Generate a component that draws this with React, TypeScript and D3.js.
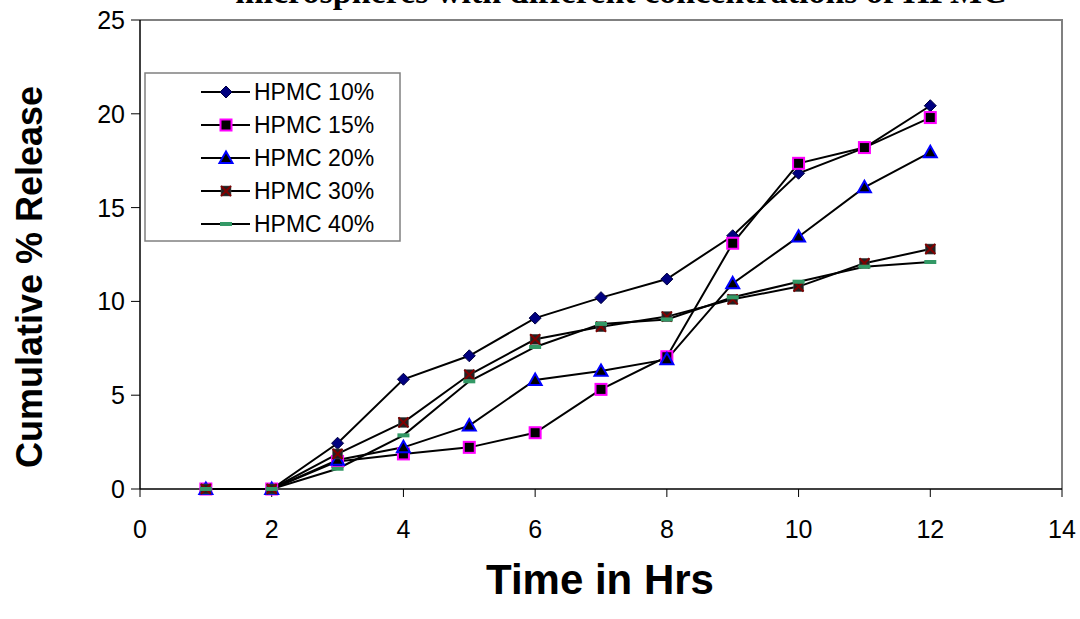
import React from "react";
import * as d3 from "d3";

const hours = [1, 2, 3, 4, 5, 6, 7, 8, 9, 10, 11, 12];
const hpmc10 = [0, 0, 2.44, 5.85, 7.1, 9.11, 10.2, 11.19, 13.5, 16.83, 18.18, 20.43];
const hpmc15 = [0, 0, 1.47, 1.87, 2.22, 3.0, 5.31, 7.05, 13.1, 17.36, 18.2, 19.8];
const hpmc20 = [0, 0, 1.55, 2.22, 3.38, 5.81, 6.29, 6.91, 10.96, 13.45, 16.08, 17.95];
const hpmc30 = [0, 0, 1.87, 3.55, 6.09, 7.98, 8.65, 9.19, 10.11, 10.79, 12.03, 12.79];
const hpmc40 = [0, 0, 1.08, 2.86, 5.74, 7.57, 8.8, 9.04, 10.22, 11.05, 11.85, 12.1];
const seriesNames = ["HPMC 10%", "HPMC 15%", "HPMC 20%", "HPMC 30%", "HPMC 40%"];
const markerKinds = ["diamond", "square", "triangle", "cross", "dash"];
const xTicks = [0, 2, 4, 6, 8, 10, 12, 14];
const yTicks = [0, 5, 10, 15, 20, 25];
const titleText = "microspheres with different concentrations of HPMC";
const xTitle = "Time in Hrs";
const yTitle = "Cumulative % Release";

const seriesValues = [hpmc10, hpmc15, hpmc20, hpmc30, hpmc40];

const W = 1080;
const H = 619;
const left = 140;
const right = 1062;
const top = 20;
const bottom = 489;

function Marker({ kind, x, y }: { kind: string; x: number; y: number }) {
  if (kind === "diamond") {
    const r = 6;
    return (
      <path
        d={`M${x},${y - r}L${x + r},${y}L${x},${y + r}L${x - r},${y}Z`}
        fill="#000080"
        stroke="#000040"
        strokeWidth={1}
      />
    );
  }
  if (kind === "square") {
    const s = 11;
    return (
      <rect x={x - s / 2} y={y - s / 2} width={s} height={s} fill="#000000" stroke="#ff00ff" strokeWidth={2} />
    );
  }
  if (kind === "triangle") {
    const r = 6.5;
    return (
      <path
        d={`M${x},${y - r}L${x + r},${y + r * 0.75}L${x - r},${y + r * 0.75}Z`}
        fill="#000000"
        stroke="#0000ff"
        strokeWidth={2}
      />
    );
  }
  if (kind === "cross") {
    const s = 5;
    return (
      <g>
        <rect x={x - s} y={y - s} width={2 * s} height={2 * s} fill="#222222" stroke="#555555" strokeWidth={0.5} />
        <path
          d={`M${x - s},${y - s}L${x + s},${y + s}M${x + s},${y - s}L${x - s},${y + s}`}
          stroke="#800000"
          strokeWidth={2}
        />
      </g>
    );
  }
  return <rect x={x - 6} y={y - 2} width={12} height={4} fill="#339966" />;
}

export default function App() {
  const x = d3.scaleLinear().domain([0, 14]).range([left, right]);
  const y = d3.scaleLinear().domain([0, 25]).range([bottom, top]);
  const line = d3
    .line<number>()
    .x((_, i) => x(hours[i]))
    .y((d) => y(d));

  const legendX = 145;
  const legendY = 73;
  const legendW = 255;
  const legendH = 168;
  const rowGap = 33;

  return (
    <svg
      width={W}
      height={H}
      style={{ position: "absolute", left: 0, top: 0, background: "#ffffff" }}
      fontFamily="Arial, 'Liberation Sans', sans-serif"
    >
      <rect x={0} y={0} width={W} height={H} fill="#ffffff" />
      <text
        x={621}
        y={3}
        textAnchor="middle"
        fontFamily="'Liberation Serif', 'Times New Roman', serif"
        fontWeight="bold"
        fontSize={34}
        fill="#000"
      >
        {titleText}
      </text>
      {/* plot border top/right */}
      <path d={`M${left},${top}H${right}V${bottom}`} fill="none" stroke="#808080" strokeWidth={2} />
      {/* axes */}
      <line x1={left} y1={top} x2={left} y2={bottom} stroke="#000" strokeWidth={1.5} />
      <line x1={left} y1={bottom} x2={right} y2={bottom} stroke="#000" strokeWidth={1.5} />
      {yTicks.map((t) => (
        <g key={"y" + t}>
          <line x1={left - 9} x2={left} y1={y(t)} y2={y(t)} stroke="#000" strokeWidth={1} />
          <text x={left - 15} y={y(t)} dy="0.36em" textAnchor="end" fontSize={25} fill="#000">
            {t}
          </text>
        </g>
      ))}
      {xTicks.map((t) => (
        <g key={"x" + t}>
          <line x1={x(t)} x2={x(t)} y1={bottom} y2={bottom + 8} stroke="#000" strokeWidth={1} />
          <text x={x(t)} y={bottom + 40} dy="0.36em" textAnchor="middle" fontSize={25} fill="#000">
            {t}
          </text>
        </g>
      ))}
      {seriesValues.map((vals, si) => (
        <path key={"l" + si} d={line(vals) || ""} fill="none" stroke="#000" strokeWidth={2} />
      ))}
      {seriesValues.map((vals, si) =>
        vals.map((v, i) => <Marker key={`m${si}-${i}`} kind={markerKinds[si]} x={x(hours[i])} y={y(v)} />)
      )}
      {/* legend */}
      <rect x={legendX} y={legendY} width={legendW} height={legendH} fill="#ffffff" stroke="#808080" strokeWidth={1.5} />
      {seriesNames.map((name, i) => {
        const cy = legendY + 19 + i * rowGap;
        return (
          <g key={"lg" + i}>
            <line x1={201} x2={250} y1={cy} y2={cy} stroke="#000" strokeWidth={2} />
            <Marker kind={markerKinds[i]} x={226} y={cy} />
            <text x={254} y={cy} dy="0.36em" fontSize={23} fill="#000">
              {name}
            </text>
          </g>
        );
      })}
      <text
        transform={`translate(42, 277) rotate(-90)`}
        textAnchor="middle"
        fontWeight="bold"
        fontSize={36}
        fill="#000"
      >
        {yTitle}
      </text>
      <text x={600} y={594} textAnchor="middle" fontWeight="bold" fontSize={42} fill="#000">
        {xTitle}
      </text>
    </svg>
  );
}
